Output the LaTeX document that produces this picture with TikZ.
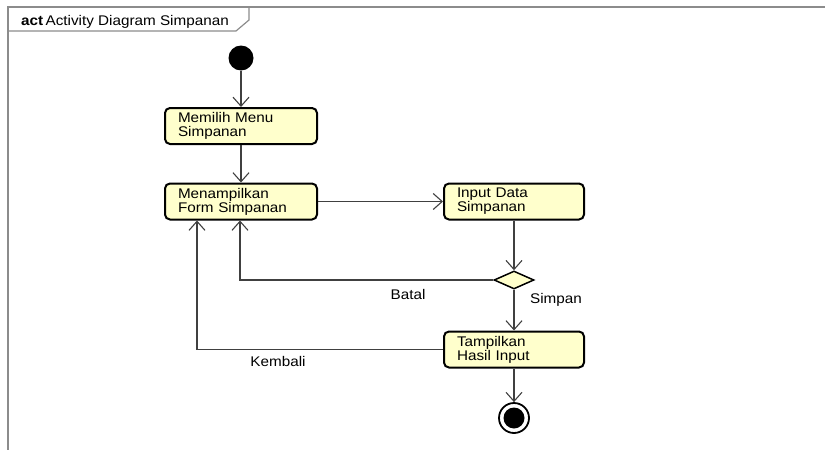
\documentclass[tikz,border=0pt]{standalone}
\usepackage{fontspec}
\setmainfont{Liberation Sans}[FakeStretch=1.09]
\usetikzlibrary{arrows.meta,shapes.geometric}
\definecolor{boxfill}{HTML}{FFFFCC}
\definecolor{linegray}{HTML}{404040}
\definecolor{framegray}{HTML}{8C8C8C}
\tikzset{
  actbox/.style={draw=black, line width=2pt, rounded corners=5pt, fill=boxfill,
    minimum width=152pt, minimum height=36pt, text width=126pt, inner xsep=13pt,
    align=left, font=\fontsize{14}{14}\selectfont},
  narrowbox/.style={actbox, minimum width=140pt, text width=114pt},
  decbox/.style={diamond, draw=black, line width=1.5pt, fill=boxfill, inner sep=0pt,
    minimum width=40pt, minimum height=18pt},
  flow/.style={draw=linegray, line width=1.1pt, -{Straight Barb[length=9pt, width=16pt, line width=1.1pt]}},
  lbl/.style={font=\fontsize{14}{14}\selectfont, inner sep=0pt},
}
\begin{document}
\begin{tikzpicture}[x=1pt, y=-1pt]
\useasboundingbox (0,0) rectangle (825,450);
% frame
\draw[framegray, line width=1.5pt] (8,450) -- (8,7) -- (825,7);
\draw[framegray, line width=1.2pt] (8,31) -- (236,31) -- (249,20) -- (249,7);
\node[lbl, anchor=base west] (title) at (21,25) {\textbf{act}\,Activity Diagram Simpanan};
% nodes
\node[circle, fill=black, minimum size=25pt, inner sep=0pt] (start) at (241,58) {};
\node[actbox] (memilih) at (241,126) {Memilih Menu\\Simpanan};
\node[actbox] (form) at (241,201.5) {Menampilkan\\Form Simpanan};
\node[narrowbox] (input) at (514,201.5) {Input Data\\Simpanan};
\node[decbox] (dec) at (514,280) {};
\node[narrowbox] (hasil) at (514,349.5) {Tampilkan\\Hasil Input};
\node[circle, draw=black, line width=1.8pt, fill=white, minimum size=30pt, inner sep=0pt] (end) at (514,418) {};
\fill[black] (end.center) circle (10.5pt);
% connectors
\draw[flow] (start) -- (memilih);
\draw[flow] (memilih) -- (form);
\draw[flow] (form) -- (input);
\draw[flow] (input) -- (dec);
\draw[flow] (dec.west) -| ([xshift=-1pt]form.south);
\draw[flow] (dec.south) -- (hasil.north);
\draw[flow] (hasil.west) -| ([xshift=-44pt]form.south);
\draw[flow] (hasil) -- (end);
% labels
\node[lbl] (batal) at (408,294) {Batal};
\node[lbl] (simpan) at (556,300) {Simpan};
\node[lbl] (kembali) at (278,361) {Kembali};
\end{tikzpicture}
\end{document}
